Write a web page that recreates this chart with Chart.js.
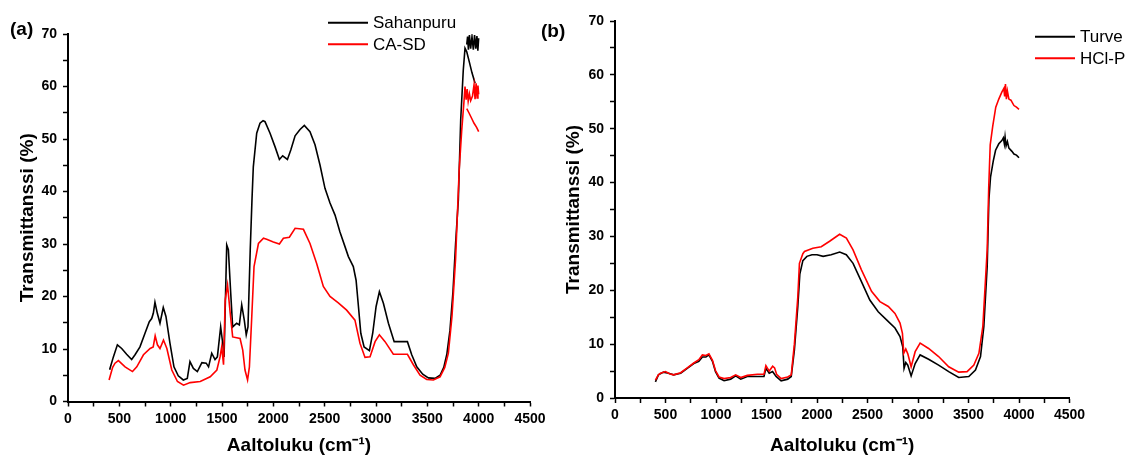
<!DOCTYPE html>
<html>
<head>
<meta charset="utf-8">
<script src="https://cdn.jsdelivr.net/npm/chart.js@4.4.0/dist/chart.umd.min.js"></script>
<style>
  html, body { margin: 0; padding: 0; background: #fff; }
  #wrap { position: relative; width: 1133px; height: 459px; overflow: hidden; background: #fff; }
  #wrap canvas { position: absolute; top: 0; }
</style>
</head>
<body>
<div id="wrap">
  <canvas id="chartA" width="555" height="459" style="left:0"></canvas>
  <canvas id="chartB" width="598" height="459" style="left:535px"></canvas>
</div>
<script>
/* FTIR spectra, two panels: (a) sawdust, (b) peat */

// panel (a)
const sahanpuruX = [400, 409, 442, 481, 523, 571, 620, 653, 701, 750, 792, 815, 831, 847, 870, 896, 928, 954, 993,
  1032, 1074, 1123, 1162, 1188, 1221, 1260, 1304, 1346, 1369, 1400, 1432, 1455, 1487, 1507, 1520, 1546, 1562, 1585,
  1604, 1643, 1669, 1692, 1717, 1736, 1753, 1775, 1792, 1805, 1838, 1870, 1900, 1919, 1968, 2017, 2059, 2091, 2137,
  2170, 2212, 2260, 2302, 2357, 2406, 2455, 2503, 2552, 2601, 2649, 2698, 2731, 2779, 2806, 2829, 2852, 2884, 2936,
  2968, 3001, 3033, 3072, 3121, 3177, 3306, 3348, 3397, 3455, 3510, 3575, 3624, 3660, 3690, 3720, 3750, 3775, 3802,
  3825, 3850, 3867, 3884, 3910, 3935, 3965, 3965,
  3884, 3892, 3900, 3910, 3922, 3935, 3948, 3960, 3972, 3983, 3992, 4000];
const sahanpuruY = [6.2, 6.3, 8.5, 10.8, 10.1, 9.0, 8.0, 8.9, 10.4, 13.0, 15.2, 15.8, 16.8, 18.9, 16.8, 14.9, 17.9, 16.2, 11.1,
  6.6, 4.9, 4.1, 4.4, 7.6, 6.3, 5.7, 7.4, 7.3, 6.6, 9.2, 8.0, 8.5, 14.2, 11.1, 8.5, 29.8, 28.9, 20.6,
  14.2, 14.9, 14.6, 18.4, 15.5, 12.7, 14.2, 28.9, 38.4, 44.7, 51.1, 53.0, 53.5, 53.3, 51.1, 48.5, 46.1, 46.8, 46.1,
  47.9, 50.6, 51.8, 52.6, 51.4, 48.9, 45.0, 40.6, 37.8, 35.5, 32.3, 29.5, 27.6, 25.7, 23.1, 18.1, 13.0, 10.4, 9.7,
  13.0, 18.1, 20.9, 18.7, 14.9, 11.4, 11.4, 8.9, 6.6, 5.2, 4.5, 4.4, 5.0, 6.5, 9.0, 13.5, 21.0, 30.0, 38.4,
  53.6, 63.1, 67.3, 66.6, 64.6, 62.6, 60.6, null,
  68.0, 69.5, 67.0, 69.8, 67.2, 69.5, 67.0, 69.8, 67.2, 69.6, 66.8, 69.2];

const caSdX = [400, 409, 435, 458, 491, 556, 628, 670, 735, 800, 830, 849, 871, 896, 930, 963, 1011, 1066, 1125,
  1190, 1288, 1385, 1450, 1481, 1497, 1515, 1531, 1554, 1580, 1604, 1676, 1702, 1724, 1749, 1767, 1790, 1812, 1855,
  1904, 1935, 2000, 2059, 2098, 2156, 2212, 2293, 2357, 2422, 2487, 2552, 2633, 2714, 2795, 2844, 2893, 2942, 2991,
  3033, 3088, 3169, 3306, 3364, 3429, 3494, 3559, 3624, 3670, 3705, 3740, 3775, 3810, 3835, 3858, 3867, 3878, 3888,
  3898, 3910, 3922, 3940, 3955, 3965, 3975, 3985, 3993, 4000, 4000,
  3884, 3905, 3930, 3955, 3980, 4000];
const caSdY = [4.1, 4.1, 6.5, 7.3, 7.8, 6.6, 5.7, 6.6, 8.9, 10.1, 10.4, 12.5, 10.8, 10.1, 11.7, 10.1, 6.0, 3.8, 3.1,
  3.6, 3.8, 4.7, 6.0, 8.5, 10.4, 7.0, 19.3, 22.2, 16.8, 12.3, 12.0, 9.8, 6.0, 4.1, 6.6, 16.2, 25.7, 30.1,
  31.1, 30.9, 30.4, 30.0, 31.1, 31.3, 33.0, 32.8, 30.1, 26.3, 21.9, 20.0, 18.8, 17.4, 15.5, 11.1, 8.4, 8.5, 11.4,
  12.7, 11.4, 9.0, 9.0, 7.0, 5.0, 4.2, 4.1, 4.7, 6.5, 9.2, 16.2, 27.1, 44.0, 51.7, 57.4, 60.0, 57.5, 59.5,
  57.2, 58.6, 57.3, 58.2, 60.3, 57.6, 60.6, 57.8, 60.2, 58.5, null,
  55.8, 55.0, 54.0, 53.0, 52.2, 51.4];

// panel (b)
const turveX = [400, 430, 480, 530, 580, 650, 715, 780, 830, 865, 900, 930, 965, 995, 1030, 1080, 1145, 1195, 1245,
  1310, 1410, 1475, 1494, 1527, 1560, 1595, 1645, 1710, 1745, 1776, 1810, 1830, 1860, 1900, 1950, 2000, 2060, 2140,
  2225, 2290, 2357, 2440, 2523, 2606, 2689, 2772, 2822, 2849, 2862, 2879, 2899, 2932, 2972, 3021, 3105, 3204, 3304,
  3403, 3503, 3569, 3619, 3652, 3685, 3702, 3718, 3745, 3768, 3800, 3830, 3845, 3855, 3862, 3872, 3885, 3900, 3930,
  3950, 3975, 4000];
const turveY = [3.0, 4.3, 4.8, 4.6, 4.3, 4.6, 5.5, 6.4, 6.8, 7.6, 7.6, 8.0, 6.8, 4.9, 3.7, 3.2, 3.5, 4.1, 3.5,
  4.0, 4.0, 4.0, 5.5, 4.6, 4.9, 4.0, 3.2, 3.5, 4.0, 8.9, 17.0, 23.0, 25.5, 26.3, 26.6, 26.6, 26.3, 26.6,
  27.1, 26.6, 25.0, 21.6, 18.2, 16.0, 14.5, 13.0, 11.4, 9.5, 5.5, 6.6, 6.1, 4.1, 6.4, 8.0, 7.2, 6.1, 4.9,
  3.8, 4.0, 5.2, 7.7, 13.3, 24.4, 36.8, 41.0, 44.0, 46.0, 47.2, 47.8, 48.3, 47.2, 48.5, 46.8, 47.6, 46.4, 45.8,
  45.3, 45.1, 44.6];

const hclPX = [400, 430, 450, 500, 540, 580, 650, 715, 780, 830, 865, 900, 930, 965, 995, 1030, 1080, 1145, 1195,
  1245, 1310, 1410, 1475, 1494, 1527, 1561, 1580, 1600, 1645, 1710, 1745, 1776, 1810, 1826, 1860, 1876, 1959, 2042,
  2125, 2224, 2291, 2357, 2440, 2540, 2623, 2706, 2772, 2822, 2846, 2859, 2879, 2899, 2932, 2972, 3021, 3105, 3204,
  3304, 3403, 3486, 3553, 3603, 3642, 3685, 3700, 3715, 3740, 3770, 3800, 3830, 3850, 3858, 3866, 3875, 3885, 3900,
  3920, 3950, 3975, 4000];
const hclPY = [3.3, 4.3, 4.6, 4.9, 4.5, 4.3, 4.7, 5.6, 6.5, 7.1, 8.0, 7.9, 8.2, 7.0, 5.1, 3.9, 3.6, 3.8, 4.3,
  3.8, 4.2, 4.4, 4.4, 6.0, 5.0, 5.9, 5.6, 4.4, 3.6, 3.9, 4.3, 10.0, 18.8, 25.0, 26.8, 27.2, 27.8, 28.1,
  29.1, 30.4, 29.7, 27.5, 23.8, 19.8, 17.9, 17.0, 15.7, 13.9, 12.0, 8.3, 9.1, 8.2, 5.8, 8.6, 10.2, 9.2, 7.7,
  5.8, 4.8, 4.9, 6.1, 8.3, 13.3, 27.5, 39.0, 47.0, 50.5, 54.0, 55.5, 56.8, 57.5, 56.0, 58.3, 55.5, 57.0, 55.5,
  55.3, 54.3, 54.0, 53.6];

const xTitle = 'Aaltoluku (cm⁻¹)';
const yTitle = 'Transmittanssi (%)';
const FONT = '"Liberation Sans", Arial, Helvetica, sans-serif';

Chart.defaults.font.family = FONT;
Chart.defaults.color = '#000';

// simple legend: short line + label, stacked rows
const lineLegend = {
  id: 'lineLegend',
  afterDraw(chart, args, opts) {
    const { ctx } = chart;
    ctx.save();
    ctx.font = '17px ' + FONT;
    ctx.textBaseline = 'middle';
    opts.items.forEach((it, i) => {
      const y = opts.y + i * opts.gap;
      ctx.strokeStyle = it.color;
      ctx.lineWidth = 2;
      ctx.beginPath(); ctx.moveTo(opts.x, y); ctx.lineTo(opts.x + 40, y); ctx.stroke();
      ctx.fillStyle = '#000';
      ctx.fillText(it.label, opts.x + 45, y + 1);
    });
    ctx.restore();
  },
};

const panelTag = {
  id: 'panelTag',
  afterDraw(chart, args, opts) {
    const { ctx } = chart;
    ctx.save();
    ctx.font = 'bold 19px ' + FONT;
    ctx.textBaseline = 'middle';
    ctx.fillStyle = '#000';
    ctx.fillText(opts.text, opts.x, opts.y);
    ctx.restore();
  },
};

function makeChart(id, cfg) {
  const datasets = cfg.series.map(s => ({
    label: s.label,
    data: s.x.map((v, i) => ({ x: v, y: s.y[i] })),
    borderColor: s.color,
    borderWidth: 1.6,
    pointRadius: 0,
    fill: false,
    tension: 0,
    spanGaps: false,
    order: s.order,
  }));

  return new Chart(document.getElementById(id), {
    type: 'line',
    data: { datasets },
    options: {
      responsive: false,
      animation: false,
      events: [],
      layout: { padding: { left: 0, top: cfg.top, right: cfg.right, bottom: 0 } },
      plugins: {
        legend: { display: false },
        tooltip: { enabled: false },
        lineLegend: { x: cfg.legX, y: cfg.legY, gap: 21.6, items: cfg.series.slice().reverse().map(s => ({ label: s.label, color: s.color })) },
        panelTag: { text: cfg.tag, x: cfg.tagX, y: cfg.tagY },
      },
      scales: {
        x: {
          type: 'linear', min: 0, max: 4500,
          border: { display: true, color: '#000', width: 2 },
          grid: { drawOnChartArea: false, drawTicks: true, tickLength: 5, tickColor: '#000', tickWidth: 1.5 },
          ticks: {
            stepSize: 250, autoSkip: false, maxRotation: 0, padding: 4, color: '#000',
            font: { size: 14, weight: 'bold' },
            callback: v => (v % 500 === 0 ? String(v) : ''),
          },
          title: { display: true, text: xTitle, color: '#000', font: { size: 19, weight: 'bold' }, padding: { top: 0, bottom: 1.6 } },
          afterFit: s => { s.height = cfg.xAxisH; },
        },
        y: {
          type: 'linear', min: 0, max: 70,
          border: { display: true, color: '#000', width: 2 },
          grid: { drawOnChartArea: false, drawTicks: true, tickLength: 5, tickColor: '#000', tickWidth: 1.5 },
          ticks: {
            stepSize: 5, autoSkip: false, padding: 6, color: '#000',
            font: { size: 14, weight: 'bold' },
            callback: v => (v % 10 === 0 ? String(v) : ''),
          },
          title: { display: true, text: yTitle, color: '#000', font: { size: 19, weight: 'bold' }, padding: { top: cfg.yTitlePad, bottom: 0 } },
          afterFit: s => { s.width = cfg.yAxisW; },
        },
      },
    },
    plugins: [lineLegend, panelTag],
  });
}

makeChart('chartA', {
  series: [
    { label: 'CA-SD', x: caSdX, y: caSdY, color: '#ff0000', order: 0 },
    { label: 'Sahanpuru', x: sahanpuruX, y: sahanpuruY, color: '#000000', order: 1 },
  ],
  top: 34, right: 25, yAxisW: 68, xAxisH: 57.5, yTitlePad: 16.3,
  legX: 328, legY: 22.7, tag: '(a)', tagX: 10, tagY: 30,
});

makeChart('chartB', {
  series: [
    { label: 'HCl-P', x: hclPX, y: hclPY, color: '#ff0000', order: 0 },
    { label: 'Turve', x: turveX, y: turveY, color: '#000000', order: 1 },
  ],
  top: 21, right: 63.5, yAxisW: 80, xAxisH: 61, yTitlePad: 26.9,
  legX: 500, legY: 36.7, tag: '(b)', tagX: 6, tagY: 32,
});
</script>
</body>
</html>
